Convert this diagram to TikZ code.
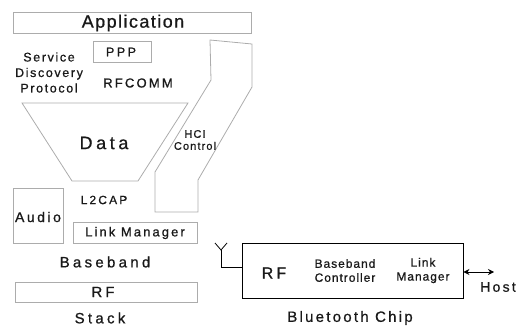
\documentclass[tikz,border=0pt]{standalone}
\usepackage{fontspec}
\setmainfont{Liberation Sans}[FakeBold=0.8]
\usetikzlibrary{arrows.meta}
\newcommand\lsp[1]{\addfontfeature{LetterSpace=#1}}
\newcommand\fsz[1]{\fontsize{#1pt}{#1pt}\selectfont}
\begin{document}
\begin{tikzpicture}[x=1pt,y=-1pt,
  stk/.style={draw=gray!65, line width=0.8pt},
  sbox/.style={stk, inner sep=0pt},
  lbl/.style={inner sep=0pt, text=black!90, align=center},
  chip/.style={draw=black, line width=0.9pt, inner sep=0pt}]
\useasboundingbox (0,0) rectangle (527,331);
% stack
\node[sbox, minimum width=238pt, minimum height=21pt] (app) at (132,22.5) {};
\node[lbl, font=\fsz{18}\lsp{8}] (apptxt) at (133,23) {Application};
\node[sbox, minimum width=58pt, minimum height=21pt] (ppp) at (122,51.5) {};
\node[lbl, font=\fsz{12.5}\lsp{20}] (ppptxt) at (121,52) {PPP};
\node[lbl, font=\fsz{12.5}\lsp{13}] (sdp) at (49,72.5) {Service\\[3pt]Discovery\\[3pt]Protocol};
\node[lbl, font=\fsz{13}\lsp{17}] (rfcomm) at (138,83) {RFCOMM};
% data trapezoid
\coordinate (d1) at (22,103);
\coordinate (d2) at (188,103);
\coordinate (d3) at (138,181);
\coordinate (d4) at (72,181);
\draw[stk] (d1) -- (d2) -- (d3) -- (d4) -- cycle;
\node[lbl, font=\fsz{18}\lsp{20}] (data) at (104,143) {Data};
% HCI path
\coordinate (h1) at (210,40);
\coordinate (h2) at (252,44);
\coordinate (h3) at (252,87);
\coordinate (h4) at (198,180);
\coordinate (h5) at (198,212);
\coordinate (h6) at (155,212);
\coordinate (h7) at (155,172);
\coordinate (h8) at (211,80);
\draw[stk] (h1) -- (h2) -- (h3) -- (h4) -- (h5) -- (h6) -- (h7) -- (h8) -- cycle;
\node[lbl, font=\fsz{11}\lsp{10}] (hci) at (195,140) {HCI\\[1pt]Control};
% lower stack
\node[sbox, minimum width=50pt, minimum height=55pt] (audio) at (38,215.5) {};
\node[lbl, font=\fsz{14}\lsp{18}] (audiotxt) at (38,217) {Audio};
\node[lbl, font=\fsz{12}\lsp{18}] (l2cap) at (104,200) {L2CAP};
\node[sbox, minimum width=124pt, minimum height=21pt] (lm) at (135,232.5) {};
\node[lbl, font=\fsz{13}\lsp{16}] (lmtxt) at (135,233) {Link Manager};
\node[lbl, font=\fsz{15}\lsp{22}] (bb) at (105,262) {Baseband};
\node[sbox, minimum width=182pt, minimum height=20pt] (rf) at (106,292) {};
\node[lbl, font=\fsz{15}\lsp{20}] (rftxt) at (103,292) {RF};
\node[lbl, font=\fsz{15}\lsp{22}] (stack) at (100,318) {Stack};
% bluetooth chip
\node[chip, minimum width=221pt, minimum height=55pt] (chipbox) at (352.5,270.5) {};
\node[lbl, font=\fsz{16}\lsp{20}] (chiprf) at (274,273) {RF};
\node[lbl, font=\fsz{12}\lsp{8}] (bbc) at (345,270.5) {Baseband\\[2pt]Controller};
\node[lbl, font=\fsz{12}\lsp{8}] (clm) at (423,270.5) {Link\\[2pt]Manager};
\node[lbl, font=\fsz{15}\lsp{15}] (btc) at (350,318) {Bluetooth Chip};
% antenna
\coordinate (a1) at (215,243);
\coordinate (a2) at (227,243);
\coordinate (a0) at (221,250);
\coordinate (a3) at (221,267);
\coordinate (a4) at (chipbox.west |- a3);
\draw[line width=0.8pt] (a1) -- (a0) -- (a2);
\draw[line width=0.8pt] (a0) -- (a3) -- (a4);
% host arrow
\coordinate (hostend) at (494,272);
\draw[line width=0.9pt, {Stealth[length=6pt,width=6pt]}-{Stealth[length=6pt,width=6pt]}] (chipbox.east |- hostend) -- (hostend);
\node[lbl, font=\fsz{14}\lsp{16}] (host) at (498,287) {Host};
\end{tikzpicture}
\end{document}
